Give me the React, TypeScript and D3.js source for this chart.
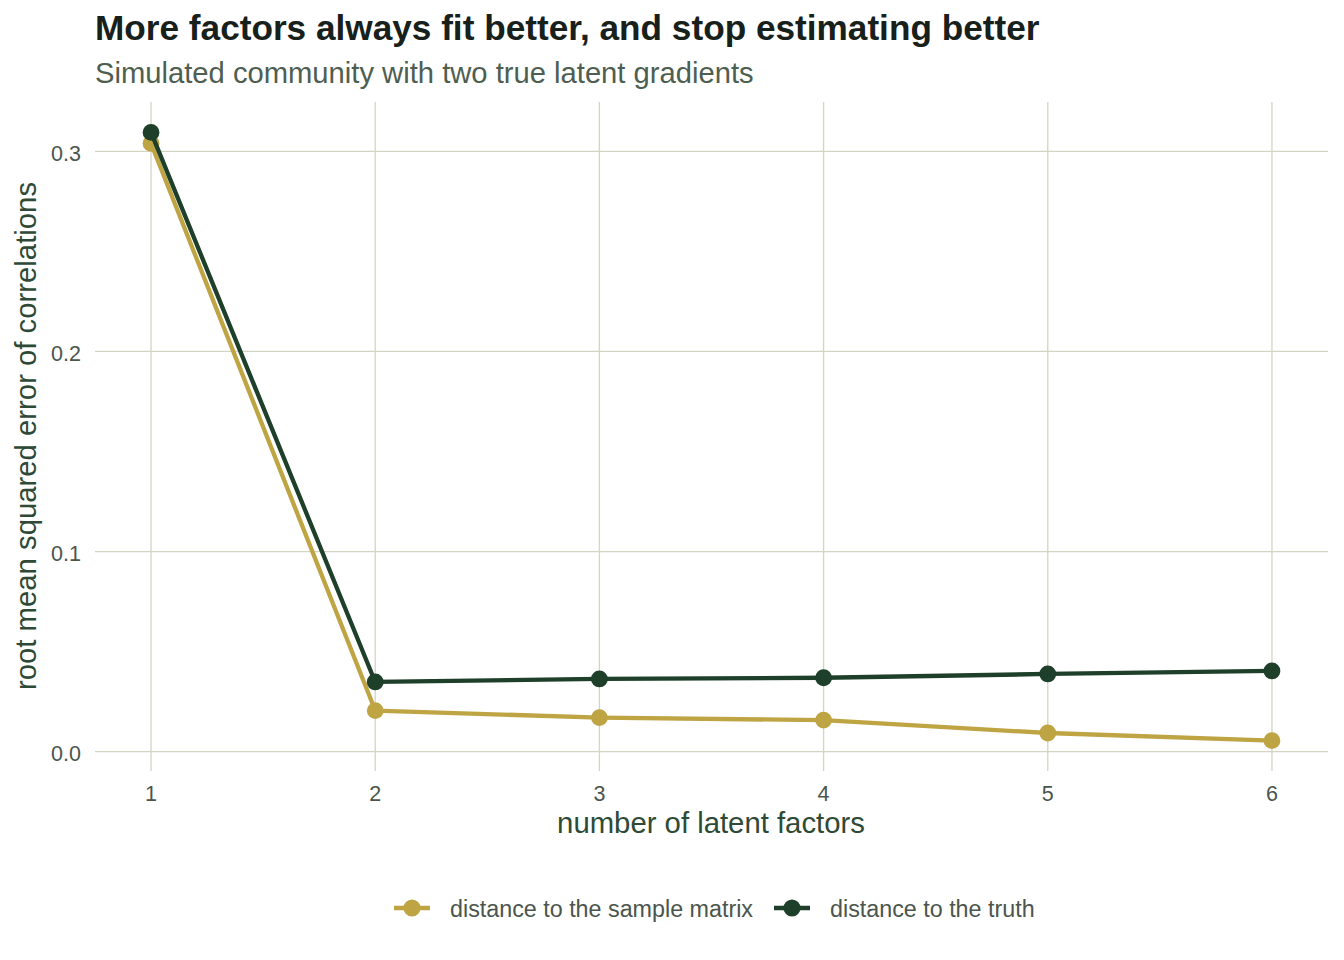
import React from "react";
import * as d3 from "d3";

const factors = [1, 2, 3, 4, 5, 6];
const sampleRmse = [0.304, 0.0205, 0.017, 0.0157, 0.0093, 0.0055];
const truthRmse = [0.3095, 0.0348, 0.0363, 0.0369, 0.0388, 0.0403];
const yTicks = [0, 0.1, 0.2, 0.3];
const seriesNames = ["distance to the sample matrix", "distance to the truth"];
const seriesColors = ["#BEA443", "#1E3F2A"];

const W = 1344, H = 960;
const FONT = "'Liberation Sans', Arial, Helvetica, sans-serif";

export default function App() {
  const allVals = [...sampleRmse, ...truthRmse];
  const yMin = d3.min(allVals)!, yMax = d3.max(allVals)!;
  const yPad = (yMax - yMin) * 0.05;
  const x = d3.scaleLinear().domain([0.75, 6.25]).range([95, 1328]);
  const y = d3.scaleLinear().domain([yMin - yPad, yMax + yPad]).range([771, 102]);
  const line = d3.line<number>().x((_, i) => x(factors[i])).y((d) => y(d));
  const series = [sampleRmse, truthRmse];
  const grid = "#D4D4C2";
  const legendX = [394, 774];

  return (
    <svg width={W} height={H} style={{ position: "absolute", left: 0, top: 0, background: "#fff" }}>
      <rect width={W} height={H} fill="#fff" />
      {yTicks.map((t) => (
        <line key={"gy" + t} x1={95} x2={1328} y1={y(t)} y2={y(t)} stroke={grid} strokeWidth={1.3} />
      ))}
      {factors.map((f) => (
        <line key={"gx" + f} x1={x(f)} x2={x(f)} y1={102} y2={771} stroke={grid} strokeWidth={1.3} />
      ))}
      {yTicks.map((t) => (
        <text key={"ty" + t} x={81} y={y(t) + 9.5} textAnchor="end" fontFamily={FONT} fontSize={21.5} fill="#4B554D">
          {d3.format(".1f")(t)}
        </text>
      ))}
      {factors.map((f) => (
        <text key={"tx" + f} x={x(f)} y={801} textAnchor="middle" fontFamily={FONT} fontSize={21.5} fill="#4B554D">
          {f}
        </text>
      ))}
      {series.map((s, k) => (
        <g key={"s" + k}>
          <path d={line(s)!} fill="none" stroke={seriesColors[k]} strokeWidth={4.3} strokeLinejoin="round" />
          {s.map((v, i) => (
            <circle key={i} cx={x(factors[i])} cy={y(v)} r={8.4} fill={seriesColors[k]} />
          ))}
        </g>
      ))}
      <text x={95} y={39.5} fontFamily={FONT} fontWeight="bold" fontSize={35.2} fill="#17201A">
        More factors always fit better, and stop estimating better
      </text>
      <text x={95} y={82.5} fontFamily={FONT} fontSize={29.2} fill="#4E5E51">
        Simulated community with two true latent gradients
      </text>
      <text x={711} y={833} textAnchor="middle" fontFamily={FONT} fontSize={29.3} fill="#2E4A36">
        number of latent factors
      </text>
      <text transform={`translate(36,436) rotate(-90)`} textAnchor="middle" fontFamily={FONT} fontSize={29.3} fill="#2E4A36">
        root mean squared error of correlations
      </text>
      {seriesNames.map((n, k) => (
        <g key={"lg" + k}>
          <line x1={legendX[k]} x2={legendX[k] + 36} y1={908} y2={908} stroke={seriesColors[k]} strokeWidth={4.3} />
          <circle cx={legendX[k] + 18} cy={908} r={8.6} fill={seriesColors[k]} />
          <text x={legendX[k] + 56} y={916.5} fontFamily={FONT} fontSize={23.3} fill="#4B554D">
            {n}
          </text>
        </g>
      ))}
    </svg>
  );
}
